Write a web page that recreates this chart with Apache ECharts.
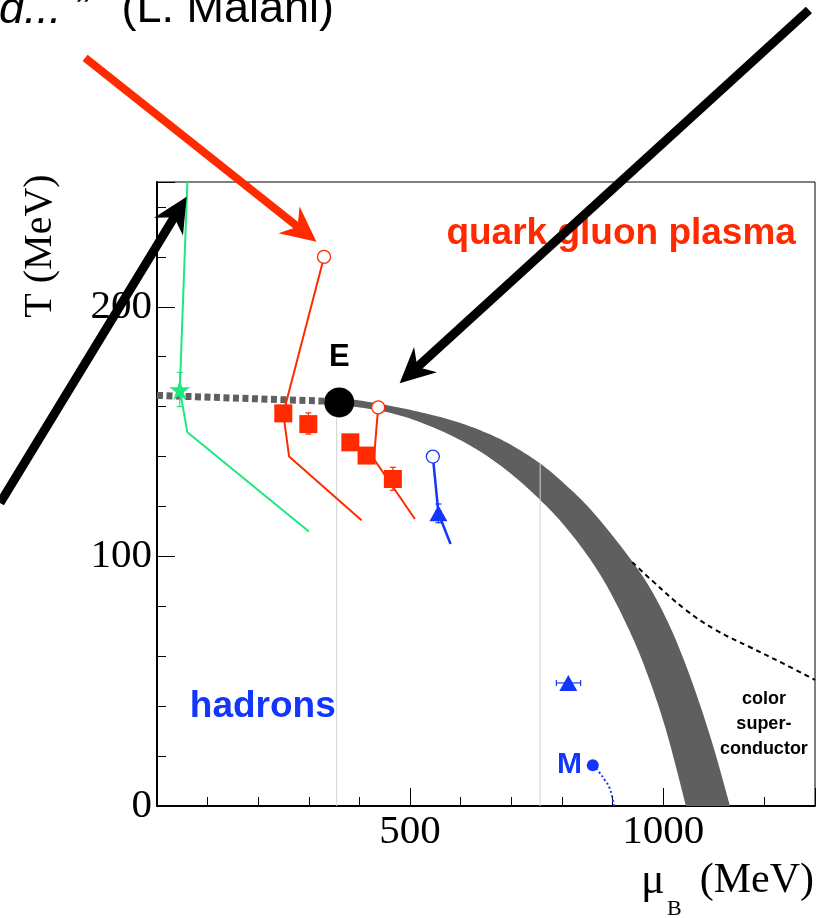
<!DOCTYPE html>
<html><head><meta charset="utf-8">
<script src="https://cdn.jsdelivr.net/npm/echarts@6/dist/echarts.min.js"></script>
<style>html,body{margin:0;padding:0;background:#fff}#c{width:818px;height:918px}</style>
</head><body><div id="c"></div>
<script>
// ---------- data (µB in MeV, T in MeV) ----------
const xTickLabels = ['500', '1000'];
const yTickLabels = ['0', '100', '200'];
const bandUpper = [[361,163.5],[400,162.5],[440,161.1],[480,159.6],[520,157.8],[560,155.8],[600,153.4],[640,150.4],[680,146.8],[720,142.2],[760,136.8],[800,130],[850,120.3],[900,108.3],[940,97.7],[970,88.7],[1000,77.6],[1030,64.1],[1065,45.2],[1100,23.2],[1132,0]];
const bandLower = [[361,160.3],[400,159.7],[450,158],[500,155.2],[550,151.3],[600,146.5],[650,140.5],[700,133],[750,124],[800,113.5],[850,100.5],[890,87.7],[930,71.7],[965,54.9],[1005,30.9],[1045,0]];
const crossoverLine = [[0,164.5],[361,162]];
const criticalPoint = [[360,161.7]];
const guideLine1 = [[355,0],[355,160]];
const guideLine2 = [[757,0],[757,137.5]];
const greenTrajectory = [[60,250],[45,166.8],[60,149.7],[300,110]];
const greenStar = [[45,166.8]];
const greenErr = [[45,166.8,null,null,160,173.7]];
const redTrajectory1 = [[330,220],[249.5,157.3],[261,140],[404,114.5]];
const redTrajectory2 = [[437,159.7],[428.5,139],[509.5,115]];
const redOpen = [[330,220],[437,159.7]];
const redSquares = [[249.5,157.3],[299,153],[382,145.7],[414,140.4],[466,131]];
const redErr = [[299,153,null,null,149,157.5],[466,131,null,null,126.5,135.7]];
const blueTrajectory = [[545,140],[556,117.3],[580,105]];
const blueOpen = [[545,140]];
const blueTriangles = [[556,117.3],[812.6,49.3]];
const blueErr = [[556,117.3,551,561,113.5,121],[812.6,49.3,789,837,null,null]];
const mPoint = [[861,16.3]];
const mCurve = [[861,16.3],[873,13.7],[885,10.3],[893,7.7],[899,4],[903,0]];
const scBoundary = [[939,97.7],[977,90.5],[1045,78.5],[1104,70.5],[1170,63.8],[1236,57.2],[1300,50.5]];
const arrows = [[-142,299.7,315,226.1],[-310,121.4,58.6,244.1],[1288,318.9,479.4,169.4]];
const annoPos = [[917,229.2],[209,39.7],[360,179.8],[815,16.4],[1199,32.9]];
const annoText = ['quark gluon plasma','hadrons','E','M','color\nsuper-\nconductor'];

// ---------- styles ----------
const RED = '#ff2a00', BLUE = '#1336ff', GREEN = '#1ee87f', BAND = '#5f5f5f';
const SERIF = 'Liberation Serif', SANS = 'Liberation Sans';
const STAR = 'path://M50,0 L61,35 L98,35 L68,57 L79,91 L50,70 L21,91 L32,57 L2,35 L39,35 Z';
const arrowColors = [RED, '#000', '#000'];
const arrowWidths = [8, 9, 9];
const annoStyles = [
  {fill: RED, fontSize: 37, fontWeight: 'bold', fontFamily: SANS},
  {fill: BLUE, fontSize: 37, fontWeight: 'bold', fontFamily: SANS},
  {fill: '#000', fontSize: 31, fontWeight: 'bold', fontFamily: SANS},
  {fill: BLUE, fontSize: 30, fontWeight: 'bold', fontFamily: SANS},
  {fill: '#000', fontSize: 18, fontWeight: 'bold', fontFamily: SANS, lineHeight: 25}
];

function lineSeries(data, color, width, type, z, smooth) {
  return {type: 'line', data, symbol: 'none', silent: true, z: z || 3, smooth: smooth || false,
    lineStyle: {color, width, type: type || 'solid', cap: 'butt', opacity: 1}, animation: false};
}
function has(v) { return v !== null && v !== undefined && !isNaN(v); }
function errSeries(data, color) {
  return {type: 'custom', data, z: 5, silent: true, animation: false,
    renderItem(params, api) {
      const x = api.value(0), y = api.value(1);
      const xlo = api.value(2), xhi = api.value(3), ylo = api.value(4), yhi = api.value(5);
      const ch = [], cap = 3;
      const st = {stroke: color, lineWidth: 1.2};
      if (has(ylo)) {
        const a = api.coord([x, ylo]), b = api.coord([x, yhi]);
        ch.push({type: 'line', shape: {x1: a[0], y1: a[1], x2: b[0], y2: b[1]}, style: st});
        ch.push({type: 'line', shape: {x1: a[0]-cap, y1: a[1], x2: a[0]+cap, y2: a[1]}, style: st});
        ch.push({type: 'line', shape: {x1: b[0]-cap, y1: b[1], x2: b[0]+cap, y2: b[1]}, style: st});
      }
      if (has(xlo)) {
        const a = api.coord([xlo, y]), b = api.coord([xhi, y]);
        ch.push({type: 'line', shape: {x1: a[0], y1: a[1], x2: b[0], y2: b[1]}, style: st});
        ch.push({type: 'line', shape: {x1: a[0], y1: a[1]-cap, x2: a[0], y2: a[1]+cap}, style: st});
        ch.push({type: 'line', shape: {x1: b[0], y1: b[1]-cap, x2: b[0], y2: b[1]+cap}, style: st});
      }
      return {type: 'group', children: ch};
    }};
}
// Catmull-Rom subdivision in screen space (rendering only)
function spline(pts, n) {
  const out = [];
  for (let i = 0; i < pts.length - 1; i++) {
    const p0 = pts[Math.max(0, i-1)], p1 = pts[i], p2 = pts[i+1], p3 = pts[Math.min(pts.length-1, i+2)];
    for (let k = 0; k < n; k++) {
      const t = k / n, t2 = t*t, t3 = t2*t;
      out.push([0, 1].map(j => 0.5*((2*p1[j]) + (-p0[j]+p2[j])*t + (2*p0[j]-5*p1[j]+4*p2[j]-p3[j])*t2 + (-p0[j]+3*p1[j]-3*p2[j]+p3[j])*t3)));
    }
  }
  out.push(pts[pts.length-1]);
  return out;
}

const bandPolygon = bandUpper.concat(bandLower.slice().reverse());
const sc = {opacity: 1};

const chart = echarts.init(document.getElementById('c'), null, {renderer: 'canvas'});
const axisTxt = {fontFamily: SERIF, fontSize: 41, color: '#000'};
chart.setOption({
  animation: false,
  backgroundColor: '#fff',
  grid: {left: 157, right: 2, top: 182, bottom: 112, show: true, borderColor: '#000', borderWidth: 1, backgroundColor: 'transparent'},
  xAxis: [
    {type: 'value', min: 0, max: 1300, interval: 500, position: 'bottom',
      axisLine: {show: true, lineStyle: {color: '#000', width: 2}},
      axisTick: {show: true, inside: true, length: 18, lineStyle: {color: '#000', width: 1}},
      axisLabel: Object.assign({margin: 6, formatter: v => xTickLabels.includes(String(v)) ? String(v) : ''}, axisTxt),
      splitLine: {show: false}},
    {type: 'value', min: 0, max: 1300, interval: 100, position: 'bottom',
      axisLine: {show: false}, axisLabel: {show: false}, splitLine: {show: false},
      axisTick: {show: true, inside: true, length: 9, lineStyle: {color: '#000', width: 1}}}
  ],
  yAxis: [
    {type: 'value', min: 0, max: 250, interval: 100, position: 'left',
      axisLine: {show: true, lineStyle: {color: '#000', width: 2}},
      axisTick: {show: true, inside: true, length: 18, lineStyle: {color: '#000', width: 1}},
      axisLabel: Object.assign({margin: 5, formatter: v => yTickLabels.includes(String(v)) ? String(v) : ''}, axisTxt),
      splitLine: {show: false}},
    {type: 'value', min: 0, max: 250, interval: 20, position: 'left',
      axisLine: {show: false}, axisLabel: {show: false}, splitLine: {show: false},
      axisTick: {show: true, inside: true, length: 9, lineStyle: {color: '#000', width: 1}}}
  ],
  series: [
    {type: 'custom', name: 'phase boundary', data: bandPolygon, z: 1, silent: true, animation: false,
      renderItem(params, api) {
        if (params.dataIndex !== 0) return null;
        const up = spline(bandUpper.map(p => api.coord(p)), 8);
        const lo = spline(bandLower.map(p => api.coord(p)), 8);
        return {type: 'polygon', shape: {points: up.concat(lo.reverse())}, style: {fill: BAND}};
      }},
    lineSeries(guideLine1, '#d2d2d2', 1, 'solid', 2),
    lineSeries(guideLine2, '#d2d2d2', 1, 'solid', 2),
    lineSeries(crossoverLine, '#606060', 7, [6, 3.5], 2),
    lineSeries(greenTrajectory, GREEN, 2, 'solid', 3),
    lineSeries(redTrajectory1, RED, 2, 'solid', 3),
    lineSeries(redTrajectory2, RED, 2, 'solid', 3),
    lineSeries(blueTrajectory, BLUE, 2.5, 'solid', 3),
    lineSeries(mCurve, BLUE, 2, [2, 2.5], 3, 0.5),
    lineSeries(scBoundary, '#000', 2, [5, 4], 3, 0.4),
    errSeries(greenErr, GREEN),
    errSeries(redErr, RED),
    errSeries(blueErr, BLUE),
    {type: 'scatter', data: greenStar, symbol: STAR, symbolSize: 21, itemStyle: Object.assign({color: GREEN}, sc), z: 6, silent: true},
    {type: 'scatter', data: redOpen, symbol: 'circle', symbolSize: 13, itemStyle: Object.assign({color: '#fff', borderColor: RED, borderWidth: 1.3}, sc), z: 6, silent: true},
    {type: 'scatter', data: redSquares, symbol: 'rect', symbolSize: 18, itemStyle: Object.assign({color: RED}, sc), z: 6, silent: true},
    {type: 'scatter', data: blueOpen, symbol: 'circle', symbolSize: 13, itemStyle: Object.assign({color: '#fff', borderColor: BLUE, borderWidth: 1.3}, sc), z: 6, silent: true},
    {type: 'scatter', data: blueTriangles, symbol: 'triangle', symbolSize: [18, 16], itemStyle: Object.assign({color: BLUE}, sc), z: 6, silent: true},
    {type: 'scatter', data: mPoint, symbol: 'circle', symbolSize: 12, itemStyle: Object.assign({color: BLUE}, sc), z: 6, silent: true},
    {type: 'scatter', data: criticalPoint, symbol: 'circle', symbolSize: 30, itemStyle: Object.assign({color: '#000'}, sc), z: 7, silent: true},
    {type: 'custom', name: 'labels', data: annoPos, z: 8, silent: true, animation: false,
      renderItem(params, api) {
        const p = api.coord([api.value(0), api.value(1)]);
        return {type: 'text', x: p[0], y: p[1],
          style: Object.assign({text: annoText[params.dataIndex], align: 'center', verticalAlign: 'middle'}, annoStyles[params.dataIndex])};
      }},
    {type: 'custom', name: 'arrows', data: arrows, z: 20, clip: false, silent: true, animation: false,
      renderItem(params, api) {
        const s = api.coord([api.value(0), api.value(1)]);
        const t = api.coord([api.value(2), api.value(3)]);
        const col = arrowColors[params.dataIndex], w = arrowWidths[params.dataIndex];
        const dx = t[0]-s[0], dy = t[1]-s[1], L = Math.hypot(dx, dy);
        const ux = dx/L, uy = dy/L, nx = -uy, ny = ux;
        const hl = 35, hw = 17, notch = 24;
        const b = [t[0]-ux*hl, t[1]-uy*hl];
        const p1 = [b[0]+nx*hw, b[1]+ny*hw], p2 = [b[0]-nx*hw, b[1]-ny*hw];
        const np = [t[0]-ux*notch, t[1]-uy*notch];
        return {type: 'group', children: [
          {type: 'line', shape: {x1: s[0], y1: s[1], x2: np[0]+ux*2, y2: np[1]+uy*2}, style: {stroke: col, lineWidth: w, lineCap: 'butt'}},
          {type: 'polygon', shape: {points: [t, p1, np, p2]}, style: {fill: col}}
        ]};
      }}
  ],
  graphic: [
    {type: 'text', x: -1, y: 10, style: {text: 'd... \u201D', fontFamily: SANS, fontSize: 45, fontStyle: 'italic', fill: '#000', align: 'left', verticalAlign: 'middle'}},
    {type: 'text', x: 334, y: 10, style: {text: '(L. Maiani)', fontFamily: SANS, fontSize: 45, fill: '#000', align: 'right', verticalAlign: 'middle'}},
    {type: 'text', x: 40, y: 246, rotation: Math.PI/2, style: {text: 'T (MeV)', fontFamily: SERIF, fontSize: 40, fill: '#000', align: 'center', verticalAlign: 'middle'}},
    {type: 'text', x: 641, y: 881, style: {text: '\u03BC', fontFamily: SERIF, fontSize: 44, fill: '#000', align: 'left', verticalAlign: 'middle'}},
    {type: 'text', x: 667, y: 909, style: {text: 'B', fontFamily: SERIF, fontSize: 22, fill: '#000', align: 'left', verticalAlign: 'middle'}},
    {type: 'text', x: 814, y: 881, style: {text: '(MeV)', fontFamily: SERIF, fontSize: 42, fill: '#000', align: 'right', verticalAlign: 'middle'}}
  ]
});
</script></body></html>
